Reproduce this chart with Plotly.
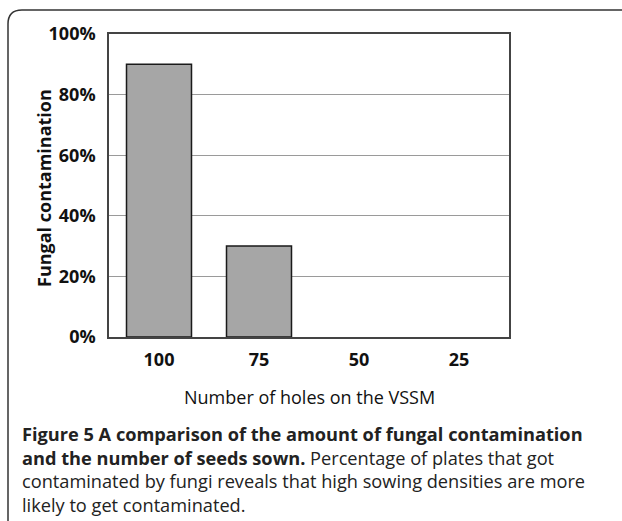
import plotly.graph_objects as go

categories = ["100", "75", "50", "25"]
values = [0.90, 0.30, 0.0, 0.0]
y_ticks = [0, 0.2, 0.4, 0.6, 0.8, 1.0]
y_tick_labels = ["0%", "20%", "40%", "60%", "80%", "100%"]
caption_lines = [
    "<b>Figure 5 A comparison of the amount of fungal contamination</b>",
    "<b>and the number of seeds sown.</b> Percentage of plates that got",
    "contaminated by fungi reveals that high sowing densities are more",
    "likely to get contaminated.",
]

W, H = 622, 521
L, R, T, B = 109, 509, 34, 337
pw, ph = R - L, B - T

def px(x):
    return (x - L) / pw

def py(y):
    return (B - y) / ph

fig = go.Figure()
fig.add_trace(go.Bar(
    x=categories, y=values,
    marker=dict(color="#a6a6a6",
                line=dict(color="#1a1a1a", width=[1.5 if v > 0 else 0 for v in values])),
    width=0.65,
))

# Frame around figure (rounded top-left corner)
r = 14
path = (f"M {px(622)},{py(10)} L {px(8 + r)},{py(10)} "
        f"Q {px(8)},{py(10)} {px(8)},{py(10 + r)} L {px(8)},{py(521)}")
fig.add_shape(type="path", xref="paper", yref="paper", path=path,
              line=dict(color="#333333", width=1.5))

fig.add_annotation(
    xref="paper", yref="paper", x=px(309), y=py(397), xanchor="center", yanchor="middle",
    text="Number of holes on the VSSM", showarrow=False,
    font=dict(family="Open Sans", size=18, color="#111111"))

fig.add_annotation(
    xref="paper", yref="paper", x=px(44), y=py(188), xanchor="center", yanchor="middle",
    text="Fungal contamination", textangle=-90, showarrow=False,
    font=dict(family="Open Sans", size=18, color="#111111", weight="bold"))

fig.add_annotation(
    xref="paper", yref="paper", x=px(20), y=py(420), xanchor="left", yanchor="top",
    text="<br>".join(caption_lines), showarrow=False, align="left",
    font=dict(family="Open Sans", size=18.2, color="#222222"))

fig.update_layout(
    width=W, height=H,
    margin=dict(l=L, r=W - R, t=T, b=H - B, pad=0),
    paper_bgcolor="white", plot_bgcolor="white",
    showlegend=False,
    bargap=0.35,
)
fig.update_xaxes(
    type="category", showgrid=False, showline=True, mirror=True,
    linecolor="#444444", linewidth=1.5, ticks="", ticklen=0,
    ticklabelstandoff=6,
    tickfont=dict(family="Open Sans", size=18, color="#111111", weight="bold"),
)
fig.update_yaxes(
    range=[0, 1.0], tickvals=y_ticks, ticktext=y_tick_labels,
    showgrid=True, gridcolor="#9a9a9a", gridwidth=1,
    showline=True, mirror=True, linecolor="#444444", linewidth=1.5,
    ticks="", zeroline=False, ticklabelstandoff=8,
    tickfont=dict(family="Open Sans", size=18, color="#111111", weight="bold"),
)

fig.write_html("out.html", config={"displayModeBar": False},
               post_script="document.body.style.margin='0';")
